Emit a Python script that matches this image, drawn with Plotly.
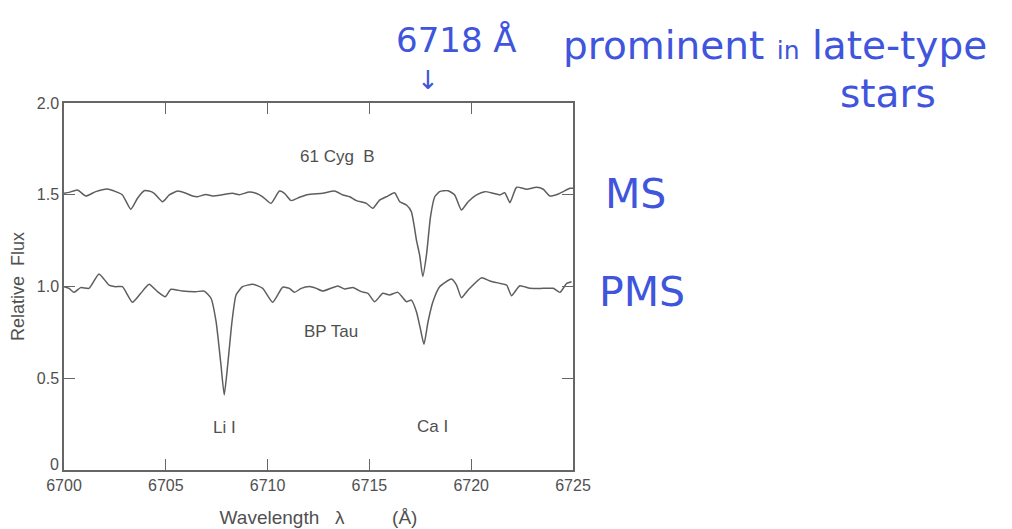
import plotly.graph_objects as go

# ---- data ----
wl_cyg = [6700.00, 6700.25, 6700.66, 6701.07, 6701.56, 6702.13, 6702.54, 6702.87, 6703.28, 6703.61,
          6703.94, 6704.18, 6704.43, 6704.84, 6705.17, 6705.58, 6705.99, 6706.31, 6706.56, 6706.97,
          6707.30, 6707.79, 6708.28, 6708.61, 6709.10, 6709.43, 6709.76, 6710.17, 6710.58, 6710.83,
          6711.16, 6711.57, 6711.89, 6712.22, 6712.71, 6713.29, 6713.70, 6714.03, 6714.36, 6714.85,
          6715.17, 6715.50, 6715.83, 6716.24, 6716.49, 6716.82, 6717.06, 6717.20, 6717.31, 6717.47,
          6717.62, 6717.80, 6717.88, 6718.00, 6718.21, 6718.45, 6718.86, 6719.19, 6719.52, 6719.85,
          6720.26, 6720.67, 6721.08, 6721.41, 6721.65, 6721.90, 6722.23, 6722.72, 6723.21, 6723.54,
          6723.87, 6724.28, 6724.52, 6724.85, 6725.00]
flux_cyg = [1.508, 1.513, 1.526, 1.493, 1.517, 1.531, 1.517, 1.499, 1.421, 1.481,
            1.522, 1.520, 1.508, 1.462, 1.499, 1.520, 1.508, 1.493, 1.489, 1.502,
            1.493, 1.500, 1.508, 1.500, 1.515, 1.508, 1.489, 1.453, 1.520, 1.508,
            1.468, 1.486, 1.499, 1.504, 1.508, 1.520, 1.499, 1.489, 1.468, 1.453,
            1.426, 1.471, 1.489, 1.511, 1.462, 1.444, 1.408, 1.330, 1.253, 1.170,
            1.055, 1.170, 1.253, 1.380, 1.489, 1.517, 1.522, 1.499, 1.417, 1.462,
            1.499, 1.517, 1.508, 1.499, 1.511, 1.457, 1.541, 1.530, 1.541, 1.530,
            1.493, 1.504, 1.517, 1.535, 1.535]

wl_bp = [6700.00, 6700.25, 6700.49, 6700.82, 6701.23, 6701.72, 6702.21, 6702.54, 6702.87, 6703.36,
         6703.77, 6704.18, 6704.59, 6704.97, 6705.25, 6705.82, 6706.48, 6706.89, 6707.22, 6707.47,
         6707.71, 6707.87, 6708.04, 6708.25, 6708.45, 6708.77, 6709.27, 6709.76, 6710.25, 6710.74,
         6711.07, 6711.32, 6711.65, 6712.06, 6712.39, 6712.71, 6713.45, 6713.78, 6714.19, 6714.60,
         6714.93, 6715.26, 6715.66, 6715.99, 6716.40, 6716.82, 6717.06, 6717.31, 6717.50, 6717.68,
         6717.88, 6718.12, 6718.45, 6719.03, 6719.28, 6719.52, 6719.85, 6720.51, 6720.92, 6721.41,
         6721.74, 6721.98, 6722.39, 6722.88, 6723.54, 6724.03, 6724.36, 6724.69, 6724.93]
flux_bp = [0.999, 0.990, 0.968, 0.994, 0.990, 1.068, 1.008, 0.999, 0.999, 0.914,
           0.963, 1.012, 0.972, 0.944, 0.985, 0.975, 0.972, 0.975, 0.936, 0.808,
           0.572, 0.409, 0.572, 0.808, 0.954, 0.999, 1.012, 0.990, 0.914, 0.996,
           0.990, 0.968, 0.990, 1.000, 0.990, 0.975, 1.003, 0.986, 0.994, 0.972,
           0.963, 0.917, 0.963, 0.954, 0.968, 0.917, 0.926, 0.863, 0.772, 0.685,
           0.808, 0.917, 0.999, 1.041, 1.008, 0.939, 0.981, 1.048, 1.030, 1.017,
           1.008, 0.950, 1.004, 0.990, 0.990, 0.990, 0.968, 1.017, 1.026]

x_ticks = [6700, 6705, 6710, 6715, 6720, 6725]
y_ticks = [0, 0.5, 1.0, 1.5, 2.0]
y_tick_text = ["", "0.5", "1.0", "1.5", "2.0"]   # "0" is placed separately, just above the corner

star_labels = ["61 Cyg\u00a0\u00a0B", "BP Tau", "Li I", "Ca I"]
star_label_x = [6713.43, 6713.1, 6707.9, 6718.1]
star_label_y = [1.71, 0.754, 0.229, 0.236]

INK = "#505050"
LINE = "#5e5e5e"
BLUE = "#3f55dc"
SANS = "Liberation Sans, Arial, sans-serif"
HAND = "DejaVu Sans, sans-serif"

fig = go.Figure()
for wl, fl in [(wl_cyg, flux_cyg), (wl_bp, flux_bp)]:
    fig.add_trace(go.Scatter(x=wl, y=fl, mode="lines",
                             line=dict(color=LINE, width=1.5, shape="spline", smoothing=0.5),
                             showlegend=False, hoverinfo="skip"))

for t, x, y in zip(star_labels, star_label_x, star_label_y):
    fig.add_annotation(x=x, y=y, text=t, showarrow=False,
                       font=dict(family=SANS, size=17, color=INK))

# the y-axis zero label sits slightly above the corner, as in the original
fig.add_annotation(x=0, xref="paper", y=0.03, yref="y", text="0", showarrow=False,
                   xanchor="right", yanchor="middle", xshift=-3,
                   font=dict(family=SANS, size=16, color=INK))

# handwritten notes (blue)
notes = [
    ("6718 Å", 0.772, 1.172, 34),
    ("↓", 0.716, 1.063, 26),
    ("prominent <span style='font-size:25px'>in</span> late-type", 1.397, 1.156, 39),
    ("stars", 1.619, 1.026, 39),
    ("MS", 1.122, 0.752, 41),
    ("PMS", 1.135, 0.485, 41),
]
for t, x, y, s in notes:
    fig.add_annotation(x=x, y=y, xref="paper", yref="paper", text=t, showarrow=False,
                       xanchor="center", yanchor="middle",
                       font=dict(family=HAND, size=s, color=BLUE))

axis_common = dict(showline=True, linecolor="#666666", linewidth=1.5, mirror="allticks",
                   ticks="inside", ticklen=11, tickwidth=1.2, tickcolor="#666666",
                   showgrid=False, zeroline=False,
                   tickfont=dict(family=SANS, size=16, color=INK))

fig.update_xaxes(range=[6700, 6725], tickvals=x_ticks,
                 title=dict(text="Wavelength\u00a0\u00a0\u00a0λ" + "\u00a0" * 9 + "(Å)",
                            font=dict(family=SANS, size=19, color=INK),
                            standoff=18),
                 **axis_common)
fig.update_yaxes(range=[0, 2.0], tickvals=y_ticks, ticktext=y_tick_text,
                 title=dict(text="Relative\u00a0\u00a0Flux",
                            font=dict(family=SANS, size=18, color=INK),
                            standoff=8),
                 **axis_common)

# the page body has an 8px margin, so the figure is 8px smaller than the window
fig.update_layout(width=1004, height=521,
                  margin=dict(l=56, r=439, t=95, b=59, autoexpand=False),
                  paper_bgcolor="white", plot_bgcolor="white")

fig.write_html("out.html")
